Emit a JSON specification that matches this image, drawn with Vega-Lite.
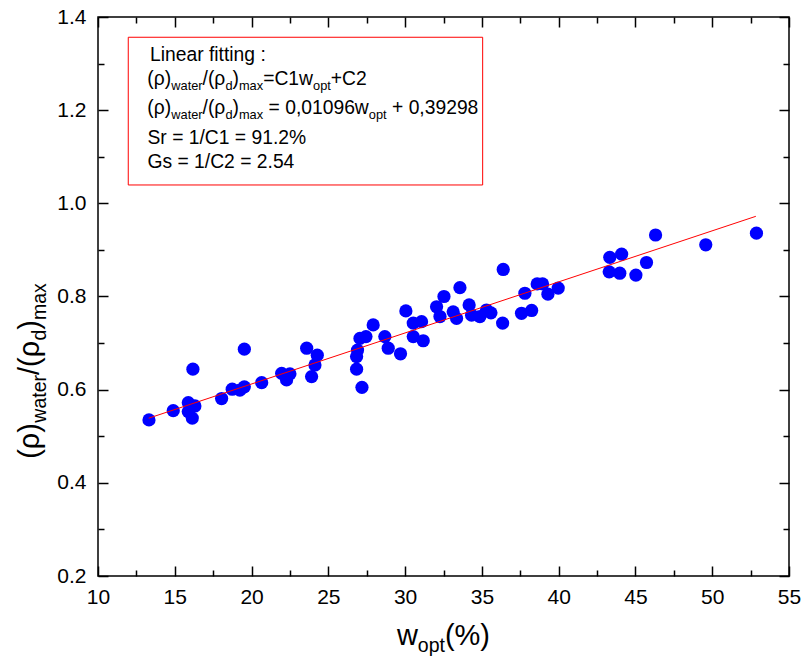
{
  "$schema": "https://vega.github.io/schema/vega-lite/v6.json",
  "width": 691,
  "height": 559,
  "autosize": {"type": "none"},
  "padding": {"left": 98, "top": 17, "right": 15, "bottom": 86},
  "background": "white",
  "config": {
    "view": {"stroke": "black", "strokeWidth": 1.5},
    "font": "Liberation Sans",
    "text": {"font": "Liberation Sans", "color": "black"}
  },
  "datasets": {
    "pts": [
      {"w": 13.32, "r": 0.535}, {"w": 14.90, "r": 0.555}, {"w": 15.88, "r": 0.572}, {"w": 16.31, "r": 0.565},
      {"w": 15.88, "r": 0.553}, {"w": 16.14, "r": 0.539}, {"w": 16.18, "r": 0.644}, {"w": 18.05, "r": 0.581},
      {"w": 18.74, "r": 0.601}, {"w": 19.24, "r": 0.599}, {"w": 19.53, "r": 0.606}, {"w": 19.53, "r": 0.687},
      {"w": 20.66, "r": 0.615}, {"w": 21.96, "r": 0.635}, {"w": 22.50, "r": 0.634}, {"w": 22.28, "r": 0.621},
      {"w": 23.59, "r": 0.689}, {"w": 24.28, "r": 0.674}, {"w": 24.13, "r": 0.653}, {"w": 23.91, "r": 0.628},
      {"w": 27.06, "r": 0.710}, {"w": 26.90, "r": 0.685}, {"w": 26.84, "r": 0.671}, {"w": 26.84, "r": 0.644},
      {"w": 27.19, "r": 0.605}, {"w": 27.92, "r": 0.739}, {"w": 27.45, "r": 0.714}, {"w": 28.68, "r": 0.714},
      {"w": 28.90, "r": 0.689}, {"w": 29.70, "r": 0.677}, {"w": 30.05, "r": 0.769}, {"w": 30.53, "r": 0.743},
      {"w": 31.07, "r": 0.746}, {"w": 30.53, "r": 0.714}, {"w": 31.18, "r": 0.705}, {"w": 32.53, "r": 0.800},
      {"w": 32.05, "r": 0.778}, {"w": 33.57, "r": 0.819}, {"w": 32.27, "r": 0.757}, {"w": 33.13, "r": 0.767},
      {"w": 33.35, "r": 0.753}, {"w": 34.17, "r": 0.782}, {"w": 34.33, "r": 0.760}, {"w": 34.87, "r": 0.757},
      {"w": 35.30, "r": 0.771}, {"w": 35.59, "r": 0.765}, {"w": 36.39, "r": 0.858}, {"w": 36.35, "r": 0.743},
      {"w": 37.80, "r": 0.807}, {"w": 38.60, "r": 0.827}, {"w": 38.95, "r": 0.827}, {"w": 39.30, "r": 0.805},
      {"w": 39.97, "r": 0.818}, {"w": 37.58, "r": 0.764}, {"w": 38.24, "r": 0.770}, {"w": 43.33, "r": 0.884},
      {"w": 44.10, "r": 0.891}, {"w": 43.29, "r": 0.853}, {"w": 43.98, "r": 0.850}, {"w": 45.03, "r": 0.846},
      {"w": 45.72, "r": 0.873}, {"w": 46.31, "r": 0.932}, {"w": 49.58, "r": 0.911}, {"w": 52.88, "r": 0.936}
    ],
    "fit": [{"w": 13.3, "r": 0.53875}, {"w": 52.84, "r": 0.97211}],
    "box": [{"x1": 11.97, "x2": 35.05, "y1": 1.0394, "y2": 1.3565}],
    "boxtext": [
      {"t": "Linear fitting :", "x": 13.385, "y": 1.3062, "k": "main"},
      {"t": "(ρ)", "x": 13.210, "y": 1.2541, "k": "main"},
      {"t": "water", "x": 14.772, "y": 1.2541, "k": "sub"},
      {"t": "/(ρ", "x": 16.810, "y": 1.2541, "k": "main"},
      {"t": "d", "x": 18.301, "y": 1.2541, "k": "sub"},
      {"t": ")", "x": 18.763, "y": 1.2541, "k": "main"},
      {"t": "max", "x": 19.180, "y": 1.2541, "k": "sub"},
      {"t": "=C1w", "x": 20.755, "y": 1.2541, "k": "main"},
      {"t": "opt", "x": 24.004, "y": 1.2541, "k": "sub"},
      {"t": "+C2", "x": 25.163, "y": 1.2541, "k": "main"},
      {"t": "(ρ)", "x": 13.210, "y": 1.1918, "k": "main"},
      {"t": "water", "x": 14.772, "y": 1.1918, "k": "sub"},
      {"t": "/(ρ", "x": 16.810, "y": 1.1918, "k": "main"},
      {"t": "d", "x": 18.301, "y": 1.1918, "k": "sub"},
      {"t": ")", "x": 18.763, "y": 1.1918, "k": "main"},
      {"t": "max", "x": 19.180, "y": 1.1918, "k": "sub"},
      {"t": "= 0,01096w", "x": 21.107, "y": 1.1918, "k": "main"},
      {"t": "opt", "x": 27.637, "y": 1.1918, "k": "sub"},
      {"t": "+ 0,39298", "x": 29.147, "y": 1.1918, "k": "main"},
      {"t": "Sr = 1/C1 = 91.2%", "x": 13.223, "y": 1.1267, "k": "main"},
      {"t": "Gs = 1/C2 = 2.54", "x": 13.223, "y": 1.0759, "k": "main"}
    ],
    "ytitle": [
      {"t": "(ρ)", "x": 6.159, "y": 0.4516, "k": "main"},
      {"t": "water", "x": 6.159, "y": 0.5292, "k": "sub"},
      {"t": "/(ρ", "x": 6.159, "y": 0.6315, "k": "main"},
      {"t": "d", "x": 6.159, "y": 0.7056, "k": "sub"},
      {"t": ")", "x": 6.159, "y": 0.7288, "k": "main"},
      {"t": "max", "x": 6.159, "y": 0.7496, "k": "sub"}
    ],
    "xtitle": [
      {"t": "w", "x": 29.466, "y": 0.0519, "k": "main"},
      {"t": "opt", "x": 30.827, "y": 0.0519, "k": "sub"},
      {"t": "(%)", "x": 32.591, "y": 0.0519, "k": "main"}
    ]
  },
  "layer": [
    {
      "data": {"name": "pts"},
      "mark": {"type": "circle", "size": 175, "color": "#0000ff", "opacity": 1},
      "encoding": {
        "x": {"field": "w", "type": "quantitative", "scale": {"domain": [10, 55], "nice": false, "zero": false},
          "axis": {"orient": "bottom", "values": [10, 15, 20, 25, 30, 35, 40, 45, 50, 55], "format": "d", "ticks": false, "domain": false, "grid": false, "title": null, "labelFontSize": 21, "labelPadding": 10, "labelColor": "black", "labelFlush": false, "labelOverlap": false, "labelFont": "Liberation Sans"}},
        "y": {"field": "r", "type": "quantitative", "scale": {"domain": [0.2, 1.4], "nice": false, "zero": false},
          "axis": {"orient": "left", "values": [0.2, 0.4, 0.6, 0.8, 1.0, 1.2, 1.4], "format": ".1f", "ticks": false, "domain": false, "grid": false, "title": null, "labelFontSize": 21, "labelPadding": 12, "labelColor": "black", "labelFlush": false, "labelOverlap": false, "labelFont": "Liberation Sans"}}
      }
    },
    {
      "data": {"name": "fit"},
      "mark": {"type": "line", "color": "#ff0000", "strokeWidth": 1},
      "encoding": {
        "x": {"field": "w", "type": "quantitative", "scale": {"domain": [10, 55], "nice": false, "zero": false},
          "axis": {"orient": "bottom", "values": [10, 15, 20, 25, 30, 35, 40, 45, 50, 55], "labels": false, "domain": false, "grid": false, "title": null, "ticks": true, "tickSize": -10, "tickWidth": 1.5, "tickColor": "black"}},
        "y": {"field": "r", "type": "quantitative", "scale": {"domain": [0.2, 1.4], "nice": false, "zero": false},
          "axis": {"orient": "left", "values": [0.2, 0.4, 0.6, 0.8, 1.0, 1.2, 1.4], "labels": false, "domain": false, "grid": false, "title": null, "ticks": true, "tickSize": -10, "tickWidth": 1.5, "tickColor": "black"}}
      }
    },
    {
      "data": {"name": "box"},
      "mark": {"type": "rect", "fill": "white", "fillOpacity": 0, "stroke": "#ff0000", "strokeWidth": 1},
      "encoding": {
        "x": {"field": "x1", "type": "quantitative", "scale": {"domain": [10, 55], "nice": false, "zero": false},
          "axis": {"orient": "top", "values": [10, 15, 20, 25, 30, 35, 40, 45, 50, 55], "labels": false, "domain": false, "grid": false, "title": null, "ticks": true, "tickSize": -10, "tickWidth": 1.5, "tickColor": "black"}},
        "x2": {"field": "x2"},
        "y": {"field": "y1", "type": "quantitative", "scale": {"domain": [0.2, 1.4], "nice": false, "zero": false},
          "axis": {"orient": "right", "values": [0.2, 0.4, 0.6, 0.8, 1.0, 1.2, 1.4], "labels": false, "domain": false, "grid": false, "title": null, "ticks": true, "tickSize": -10, "tickWidth": 1.5, "tickColor": "black"}},
        "y2": {"field": "y2"}
      }
    },
    {
      "data": {"name": "boxtext"},
      "transform": [{"filter": "datum.k === 'main'"}],
      "mark": {"type": "text", "align": "left", "baseline": "alphabetic", "fontSize": 19.3, "font": "Liberation Sans", "color": "black"},
      "encoding": {
        "x": {"field": "x", "type": "quantitative", "scale": {"domain": [10, 55], "nice": false, "zero": false},
          "axis": {"orient": "bottom", "values": [12.5, 17.5, 22.5, 27.5, 32.5, 37.5, 42.5, 47.5, 52.5], "labels": false, "domain": false, "grid": false, "title": null, "ticks": true, "tickSize": -6, "tickWidth": 1.5, "tickColor": "black"}},
        "y": {"field": "y", "type": "quantitative", "scale": {"domain": [0.2, 1.4], "nice": false, "zero": false},
          "axis": {"orient": "left", "values": [0.3, 0.5, 0.7, 0.9, 1.1, 1.3], "labels": false, "domain": false, "grid": false, "title": null, "ticks": true, "tickSize": -6, "tickWidth": 1.5, "tickColor": "black"}},
        "text": {"field": "t"}
      }
    },
    {
      "data": {"name": "boxtext"},
      "transform": [{"filter": "datum.k === 'sub'"}],
      "mark": {"type": "text", "align": "left", "baseline": "alphabetic", "fontSize": 12.8, "dy": 5, "font": "Liberation Sans", "color": "black"},
      "encoding": {
        "x": {"field": "x", "type": "quantitative", "scale": {"domain": [10, 55], "nice": false, "zero": false},
          "axis": {"orient": "top", "values": [12.5, 17.5, 22.5, 27.5, 32.5, 37.5, 42.5, 47.5, 52.5], "labels": false, "domain": false, "grid": false, "title": null, "ticks": true, "tickSize": -6, "tickWidth": 1.5, "tickColor": "black"}},
        "y": {"field": "y", "type": "quantitative", "scale": {"domain": [0.2, 1.4], "nice": false, "zero": false},
          "axis": {"orient": "right", "values": [0.3, 0.5, 0.7, 0.9, 1.1, 1.3], "labels": false, "domain": false, "grid": false, "title": null, "ticks": true, "tickSize": -6, "tickWidth": 1.5, "tickColor": "black"}},
        "text": {"field": "t"}
      }
    },
    {
      "data": {"name": "ytitle"},
      "transform": [{"filter": "datum.k === 'main'"}],
      "mark": {"type": "text", "align": "left", "baseline": "alphabetic", "angle": 270, "fontSize": 29, "font": "Liberation Sans", "color": "black"},
      "encoding": {
        "x": {"field": "x", "type": "quantitative", "scale": {"domain": [10, 55], "nice": false, "zero": false}, "axis": null},
        "y": {"field": "y", "type": "quantitative", "scale": {"domain": [0.2, 1.4], "nice": false, "zero": false}, "axis": null},
        "text": {"field": "t"}
      }
    },
    {
      "data": {"name": "ytitle"},
      "transform": [{"filter": "datum.k === 'sub'"}],
      "mark": {"type": "text", "align": "left", "baseline": "alphabetic", "angle": 270, "fontSize": 19.5, "dy": 7, "font": "Liberation Sans", "color": "black"},
      "encoding": {
        "x": {"field": "x", "type": "quantitative", "scale": {"domain": [10, 55], "nice": false, "zero": false}, "axis": null},
        "y": {"field": "y", "type": "quantitative", "scale": {"domain": [0.2, 1.4], "nice": false, "zero": false}, "axis": null},
        "text": {"field": "t"}
      }
    },
    {
      "data": {"name": "xtitle"},
      "transform": [{"filter": "datum.k === 'main'"}],
      "mark": {"type": "text", "align": "left", "baseline": "alphabetic", "fontSize": 29, "font": "Liberation Sans", "color": "black"},
      "encoding": {
        "x": {"field": "x", "type": "quantitative", "scale": {"domain": [10, 55], "nice": false, "zero": false}, "axis": null},
        "y": {"field": "y", "type": "quantitative", "scale": {"domain": [0.2, 1.4], "nice": false, "zero": false}, "axis": null},
        "text": {"field": "t"}
      }
    },
    {
      "data": {"name": "xtitle"},
      "transform": [{"filter": "datum.k === 'sub'"}],
      "mark": {"type": "text", "align": "left", "baseline": "alphabetic", "fontSize": 19.5, "dy": 7, "font": "Liberation Sans", "color": "black"},
      "encoding": {
        "x": {"field": "x", "type": "quantitative", "scale": {"domain": [10, 55], "nice": false, "zero": false}, "axis": null},
        "y": {"field": "y", "type": "quantitative", "scale": {"domain": [0.2, 1.4], "nice": false, "zero": false}, "axis": null},
        "text": {"field": "t"}
      }
    }
  ],
  "resolve": {"axis": {"x": "independent", "y": "independent"}}
}
